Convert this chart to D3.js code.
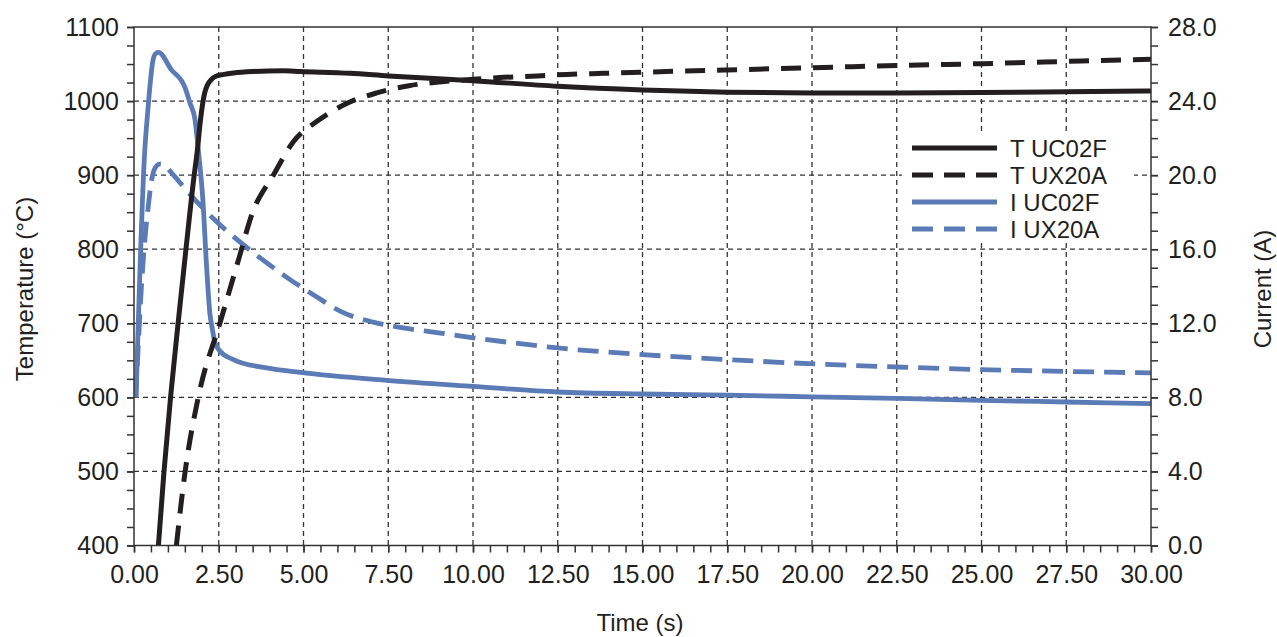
<!DOCTYPE html>
<html>
<head>
<meta charset="utf-8">
<script src="https://cdn.jsdelivr.net/npm/d3@7"></script>
<style>
  body { margin: 0; background: #fff; }
  text { font-family: "Liberation Sans", Arial, Helvetica, sans-serif; fill: #231f20; }
</style>
</head>
<body>
<div id="chart"></div>
<script>
// temperature, UC02F
var tUC02F_time = [0.72, 0.88, 1.08, 1.31, 1.53, 1.77, 1.87, 1.96, 2.02, 2.08, 2.16, 2.26, 2.39, 2.65, 2.93, 3.5, 4.4, 4.9, 6.37, 7.5, 10, 12.5, 15, 17.5, 20, 22.5, 25, 27.5, 30];
var tUC02F_temp = [400, 497, 601, 704, 799, 898, 934, 974, 995, 1010, 1021, 1028, 1033, 1036, 1038, 1040, 1041, 1040, 1037.5, 1034, 1027.5, 1020, 1015, 1012, 1011, 1011, 1011.5, 1012.5, 1013.6];

// temperature, UX20A
var tUX20A_time = [1.25, 1.50, 1.90, 2.56, 3.11, 3.47, 4.11, 4.7, 5.44, 6.24, 7.16, 8.11, 9.08, 10.0, 10.9, 11.9, 12.76, 13.5, 15, 17.5, 20, 22.5, 25, 27.5, 30];
var tUX20A_temp = [400, 497, 601, 704, 790, 846, 900, 945, 974, 996, 1011, 1020.8, 1026, 1029.4, 1032, 1034, 1036, 1037, 1039, 1042, 1045, 1048, 1050.5, 1053.5, 1056.4];

// current, UC02F
var iUC02F_time = [0.06, 0.32, 0.40, 0.47, 0.55, 0.63, 0.72, 1.1, 1.5, 1.65, 1.8, 1.9, 2.03, 2.14, 2.24, 2.30, 2.39, 2.54, 2.93, 3.91, 4.9, 7.45, 10, 12.5, 15, 17.5, 20, 22.5, 25, 27.5, 30];
var iUC02F_amps = [8.0, 21.4, 23.3, 24.8, 26.1, 26.55, 26.63, 25.7, 24.75, 23.9, 23.0, 21.3, 18.7, 15.1, 12.5, 11.8, 10.95, 10.49, 10.04, 9.59, 9.35, 8.92, 8.59, 8.29, 8.18, 8.12, 8.03, 7.94, 7.84, 7.75, 7.66];

// current, UX20A
var iUX20A_time = [0.05, 0.12, 0.22, 0.32, 0.42, 0.5, 0.6, 0.75, 0.9, 1.07, 1.7, 2.37, 3.05, 3.78, 4.57, 5.36, 6.14, 7.06, 7.94, 8.93, 9.81, 10.8, 12.5, 15, 17.5, 19.9, 22.5, 25, 27.5, 30];
var iUX20A_amps = [8.0, 10.6, 14.0, 16.5, 18.3, 19.5, 20.3, 20.6, 20.55, 20.2, 18.87, 17.6, 16.5, 15.45, 14.4, 13.46, 12.6, 12.06, 11.75, 11.5, 11.27, 11.03, 10.67, 10.31, 10.04, 9.82, 9.64, 9.5, 9.4, 9.32];

var legendNames = ["T UC02F", "T UX20A", "I UC02F", "I UX20A"];

var xTicks = d3.range(0, 30.001, 2.5);
var tempTicks = d3.range(400, 1100.1, 100);
var ampTicks = d3.range(0, 28.01, 4);

var margin = {top: 27, right: 126, bottom: 91.5, left: 134};
var width = 1277 - margin.left - margin.right;
var height = 637 - margin.top - margin.bottom;

var black = "#231f20";
var blue = "#5b7bb6";
var axisColor = "#333";

var svg = d3.select("#chart")
  .append("svg")
    .attr("width", 1277)
    .attr("height", 637)
  .append("g")
    .attr("transform", "translate(" + margin.left + "," + margin.top + ")");

var x = d3.scaleLinear().domain([0, 30]).range([0, width]);
var yT = d3.scaleLinear().domain([400, 1100]).range([height, 0]);
var yI = d3.scaleLinear().domain([0, 28]).range([height, 0]);

// grid
svg.append("g")
  .selectAll("line")
  .data(xTicks.slice(1, -1))
  .enter().append("line")
    .attr("x1", function(d) { return x(d); })
    .attr("x2", function(d) { return x(d); })
    .attr("y1", 0)
    .attr("y2", height)
    .attr("stroke", axisColor)
    .attr("stroke-width", 1.3)
    .attr("stroke-dasharray", "5,4");

svg.append("g")
  .selectAll("line")
  .data(tempTicks.slice(1, -1))
  .enter().append("line")
    .attr("x1", 0)
    .attr("x2", width)
    .attr("y1", function(d) { return yT(d); })
    .attr("y2", function(d) { return yT(d); })
    .attr("stroke", axisColor)
    .attr("stroke-width", 1.3)
    .attr("stroke-dasharray", "5,4");

// legend background hides the grid behind it
svg.append("rect")
  .attr("x", 902 - margin.left)
  .attr("y", 131 - margin.top)
  .attr("width", 232)
  .attr("height", 112)
  .attr("fill", "#fff");

// series
svg.append("clipPath").attr("id", "clip")
  .append("rect").attr("width", width).attr("height", height);

function pairs(xs, ys) {
  return xs.map(function(t, i) { return [t, ys[i]]; });
}

var series = [
  {pts: pairs(iUX20A_time, iUX20A_amps), y: yI, color: blue, w: 4.8, dash: "21,10"},
  {pts: pairs(iUC02F_time, iUC02F_amps), y: yI, color: blue, w: 4.8, dash: null},
  {pts: pairs(tUX20A_time, tUX20A_temp), y: yT, color: black, w: 5, dash: "20,12"},
  {pts: pairs(tUC02F_time, tUC02F_temp), y: yT, color: black, w: 5, dash: null}
];

var plot = svg.append("g").attr("clip-path", "url(#clip)");

series.forEach(function(s) {
  var line = d3.line()
    .x(function(d) { return x(d[0]); })
    .y(function(d) { return s.y(d[1]); })
    .curve(d3.curveMonotoneX);
  plot.append("path")
    .datum(s.pts)
    .attr("d", line)
    .attr("fill", "none")
    .attr("stroke", s.color)
    .attr("stroke-width", s.w)
    .attr("stroke-dasharray", s.dash)
    .attr("stroke-linejoin", "round");
});

// frame
svg.append("rect")
  .attr("width", width)
  .attr("height", height)
  .attr("fill", "none")
  .attr("stroke", axisColor)
  .attr("stroke-width", 1.5);

function styleAxis(g) {
  g.selectAll("path").remove();
  g.selectAll("line").attr("stroke", axisColor).attr("stroke-width", 1.5);
  g.selectAll("text").attr("font-size", 25).attr("fill", black)
    .style("font-family", "'Liberation Sans', Arial, Helvetica, sans-serif");
}

// x axis
svg.append("g")
  .attr("transform", "translate(0," + height + ")")
  .call(d3.axisBottom(x).tickValues(d3.range(0, 30.001, 0.5)).tickFormat("").tickSize(7).tickSizeOuter(0))
  .call(styleAxis);
svg.append("g")
  .attr("transform", "translate(0," + height + ")")
  .call(d3.axisBottom(x).tickValues(xTicks).tickFormat(d3.format(".2f")).tickSize(7).tickPadding(12.5).tickSizeOuter(0))
  .call(styleAxis);

// left axis
svg.append("g")
  .call(d3.axisLeft(yT).tickValues(d3.range(400, 1100.1, 25)).tickFormat("").tickSize(7).tickSizeOuter(0))
  .call(styleAxis);
svg.append("g")
  .call(d3.axisLeft(yT).tickValues(tempTicks).tickFormat(d3.format("d")).tickSize(7).tickPadding(8).tickSizeOuter(0))
  .call(styleAxis);

// right axis
svg.append("g")
  .attr("transform", "translate(" + width + ",0)")
  .call(d3.axisRight(yI).tickValues(d3.range(0, 28.01, 1)).tickFormat("").tickSize(7).tickSizeOuter(0))
  .call(styleAxis);
svg.append("g")
  .attr("transform", "translate(" + width + ",0)")
  .call(d3.axisRight(yI).tickValues(ampTicks).tickFormat(d3.format(".1f")).tickSize(7).tickPadding(10).tickSizeOuter(0))
  .call(styleAxis);

// axis titles
svg.append("text")
  .attr("x", 640 - margin.left)
  .attr("y", 631 - margin.top)
  .attr("text-anchor", "middle")
  .attr("font-size", 24)
  .text("Time (s)");

svg.append("text")
  .attr("transform", "translate(" + (33 - margin.left) + "," + (289 - margin.top) + ") rotate(-90)")
  .attr("text-anchor", "middle")
  .attr("font-size", 24)
  .text("Temperature (°C)");

svg.append("text")
  .attr("transform", "translate(" + (1271 - margin.left) + "," + (289 - margin.top) + ") rotate(-90)")
  .attr("text-anchor", "middle")
  .attr("font-size", 24)
  .text("Current (A)");

// legend
var legend = svg.append("g")
  .attr("transform", "translate(" + (912 - margin.left) + "," + (148 - margin.top) + ")");

var legendStyles = [series[3], series[2], series[1], series[0]];

legendNames.forEach(function(name, i) {
  var s = legendStyles[i];
  legend.append("line")
    .attr("x1", 0).attr("x2", 85)
    .attr("y1", i * 27).attr("y2", i * 27)
    .attr("stroke", s.color)
    .attr("stroke-width", 5)
    .attr("stroke-dasharray", s.dash ? "21,11" : null);
  legend.append("text")
    .attr("x", 98)
    .attr("y", i * 27 + 8.5)
    .attr("font-size", 24)
    .text(name);
});
</script>
</body>
</html>
